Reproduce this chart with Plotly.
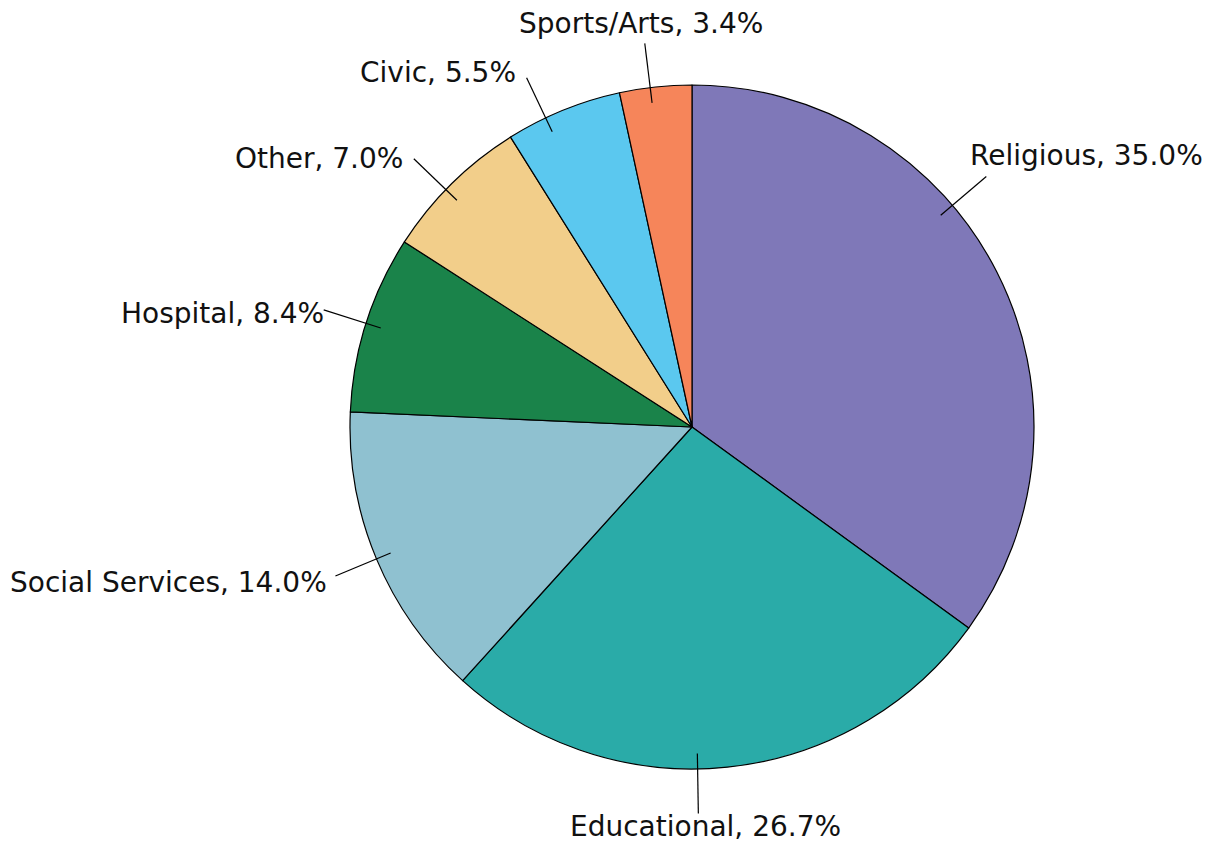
import math
import plotly.graph_objects as go

categories = ["Religious", "Educational", "Social Services", "Hospital", "Other", "Civic", "Sports/Arts"]
shares = [35.0, 26.7, 14.0, 8.4, 7.0, 5.5, 3.4]
colors = ["#7F78B8", "#2AABA8", "#8FC1D0", "#1A834A", "#F2CE8A", "#5BC8EF", "#F6855A"]

# label styling: angle shift of leader line (deg), text anchor, pixel offsets from line end
label_shift = [-13.4, 5.0, 0.0, 0.0, -1.4, -3.2, -0.9]
label_anchor = ["left", "center", "right", "right", "right", "right", "center"]
label_dx = [-17, 7, -7, 1, -10, -10, -4]
label_dy = [-21, 13, 6, 4, 0, -5, -20]

OFF = 8  # page body margin
W, H = 1202, 835
CX, CY, R = 692 - OFF, 427 - OFF, 342
R_IN, R_OUT = 0.955, 1.13

fig = go.Figure()
fig.add_trace(go.Pie(
    labels=categories, values=shares, sort=False, direction="clockwise", rotation=0,
    marker=dict(colors=colors, line=dict(color="black", width=1.2)),
    textinfo="none", hoverinfo="label+percent", showlegend=False,
    domain=dict(x=[(CX - R) / W, (CX + R) / W], y=[(H - CY - R) / H, (H - CY + R) / H]),
))

total = sum(shares)
cum = 0.0
shapes, annotations = [], []
for i, (cat, v) in enumerate(zip(categories, shares)):
    mid = (cum + v / 2) / total * 360.0
    cum += v
    ang = math.radians(mid + label_shift[i])
    x0, y0 = CX + R * R_IN * math.sin(ang), CY - R * R_IN * math.cos(ang)
    x1, y1 = CX + R * R_OUT * math.sin(ang), CY - R * R_OUT * math.cos(ang)
    shapes.append(dict(type="line", xref="paper", yref="paper",
                       x0=x0 / W, y0=1 - y0 / H, x1=x1 / W, y1=1 - y1 / H,
                       line=dict(color="black", width=1.2)))
    tx, ty = x1 + label_dx[i], y1 + label_dy[i]
    annotations.append(dict(text=f"{cat}, {v:.1f}%", xref="paper", yref="paper",
                            x=tx / W, y=1 - ty / H, xanchor=label_anchor[i], yanchor="middle",
                            borderpad=0,
                            showarrow=False, font=dict(family="DejaVu Sans", size=28, color="#111111")))

fig.update_layout(width=W, height=H, margin=dict(l=0, r=0, t=0, b=0),
                  paper_bgcolor="white", plot_bgcolor="white",
                  shapes=shapes, annotations=annotations)
fig.write_html("out.html")
